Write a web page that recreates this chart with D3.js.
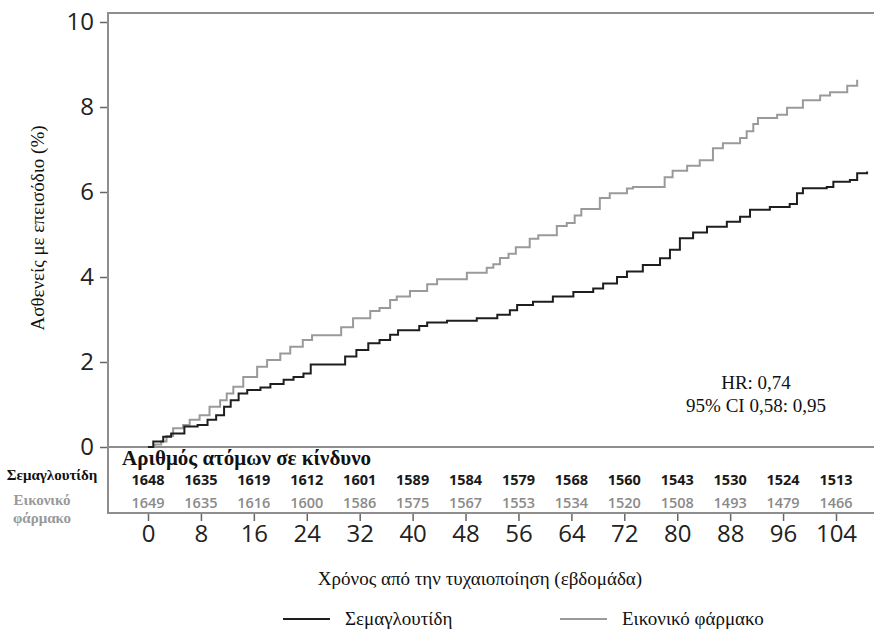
<!DOCTYPE html>
<html>
<head>
<meta charset="utf-8">
<script src="https://cdn.jsdelivr.net/npm/d3@7"></script>
<style>
  html, body { margin: 0; padding: 0; background: #fff; }
  svg { display: block; }
</style>
</head>
<body>
<svg id="chart" width="874" height="629"></svg>
<script>
// ---- Data ----
const semaWeeks = [0, 0.8, 2.3, 3.5, 5.5, 7.5, 9, 10.3, 11.5, 12.5, 13.7, 15, 17, 18.5, 20.5, 22, 23.5, 24.6,
  29.8, 31.5, 33.3, 35, 36.6, 37.8, 41, 42.2, 45.2, 49.7, 52.8, 54.7, 55.8, 58.2, 61.2, 64.3, 67.3, 68.8,
  70.9, 72.4, 74.8, 77.4, 78.9, 80.4, 82.4, 84.5, 87.5, 89.5, 91, 94, 97, 98.1, 99, 102.6, 103.6, 106.1, 107.2, 108.7];
const semaValues = [0, 0.13, 0.24, 0.32, 0.48, 0.52, 0.64, 0.75, 0.95, 1.1, 1.26, 1.34, 1.4, 1.48, 1.58, 1.65, 1.73, 1.94,
  2.13, 2.28, 2.44, 2.52, 2.64, 2.75, 2.85, 2.93, 2.97, 3.03, 3.11, 3.22, 3.34, 3.42, 3.54, 3.65, 3.73, 3.85,
  4.0, 4.13, 4.28, 4.44, 4.64, 4.91, 5.05, 5.18, 5.3, 5.42, 5.58, 5.65, 5.72, 5.97, 6.09, 6.12, 6.24, 6.28, 6.44, 6.48];

const placeboWeeks = [0, 1, 2, 2.8, 3.8, 5.3, 6.3, 7.8, 9.3, 10.9, 11.9, 12.9, 14.4, 16.5, 18, 20, 21.5, 23.4, 24.8,
  29.2, 31, 33.6, 35, 36.6, 37.6, 39.6, 42.2, 43.7, 48.2, 51.2, 52.2, 53.2, 54.5, 55.6, 57.7, 59, 61.8, 63.3,
  64.5, 65.5, 68.3, 69.8, 72.4, 73.3, 78.1, 79.3, 81.5, 83.4, 85.4, 86.9, 89.5, 90.5, 91.5, 92.2, 95.1, 96.6,
  99, 101.6, 103.1, 105.7, 107.2];
const placeboValues = [0, 0.06, 0.13, 0.26, 0.44, 0.52, 0.64, 0.75, 0.95, 1.1, 1.26, 1.42, 1.65, 1.89, 2.05, 2.2, 2.36, 2.52, 2.63,
  2.82, 3.03, 3.2, 3.27, 3.46, 3.54, 3.67, 3.83, 3.95, 4.1, 4.22, 4.3, 4.45, 4.55, 4.7, 4.9, 4.98, 5.2, 5.27,
  5.45, 5.6, 5.86, 5.97, 6.08, 6.12, 6.35, 6.5, 6.62, 6.75, 7.03, 7.15, 7.27, 7.43, 7.6, 7.74, 7.82, 7.98,
  8.16, 8.27, 8.35, 8.5, 8.64];

const xTicks = [0, 8, 16, 24, 32, 40, 48, 56, 64, 72, 80, 88, 96, 104];
const yTicks = [0, 2, 4, 6, 8, 10];
const semaAtRisk = [1648, 1635, 1619, 1612, 1601, 1589, 1584, 1579, 1568, 1560, 1543, 1530, 1524, 1513];
const placeboAtRisk = [1649, 1635, 1616, 1600, 1586, 1575, 1567, 1553, 1534, 1520, 1508, 1493, 1479, 1466];

const seriesNames = ["Σεμαγλουτίδη", "Εικονικό φάρμακο"];
const riskTitle = "Αριθμός ατόμων σε κίνδυνο";
const yTitle = "Ασθενείς με επεισόδιο (%)";
const xTitle = "Χρόνος από την τυχαιοποίηση (εβδομάδα)";
const hrLines = ["HR: 0,74", "95% CI 0,58: 0,95"];

// ---- Layout ----
const frameLeft = 108, frameTop = 13, frameRight = 874, dividerY = 447, frameBottom = 513;
const black = "#1e1e1e", grey = "#9a9a9a", frameCol = "#8e8e8e";
const serif = "'Liberation Serif', 'Times New Roman', serif";
const sans = "'Open Sans', 'DejaVu Sans', sans-serif";

const svg = d3.select("#chart");

const x = d3.scaleLinear().domain([0, 104]).range([148, 836]);
const y = d3.scaleLinear().domain([0, 10]).range([dividerY, 22]);

// Frame
const frame = svg.append("g").attr("stroke", frameCol).attr("stroke-width", 2).attr("fill", "none");
frame.append("path").attr("d", `M${frameRight},${frameTop}H${frameLeft}V${frameBottom}H${frameRight}`);
frame.append("path").attr("d", `M${frameLeft},${dividerY}H${frameRight}`);

// Y axis
const yAxis = svg.append("g").attr("transform", `translate(${frameLeft - 1},0)`)
  .call(d3.axisLeft(y).tickValues(yTicks).tickSize(7).tickPadding(6));
yAxis.select(".domain").remove();
yAxis.selectAll(".tick line").attr("stroke", "#666").attr("stroke-width", 1.5);
yAxis.selectAll(".tick text").attr("font-family", sans).attr("font-size", 24).attr("fill", "#222");

// X axis (below the risk table)
const xAxis = svg.append("g").attr("transform", `translate(0,${frameBottom + 1})`)
  .call(d3.axisBottom(x).tickValues(xTicks).tickSize(7).tickPadding(4));
xAxis.select(".domain").remove();
xAxis.selectAll(".tick line").attr("stroke", "#666").attr("stroke-width", 1.5);
xAxis.selectAll(".tick text").attr("font-family", sans).attr("font-size", 24).attr("fill", "#222");

// Curves
const line = d3.line().x(d => x(d[0])).y(d => y(d[1])).curve(d3.curveStepAfter);
const placeboData = placeboWeeks.map((w, i) => [w, placeboValues[i]]);
const semaData = semaWeeks.map((w, i) => [w, semaValues[i]]);
svg.append("path").datum(placeboData).attr("d", line)
  .attr("fill", "none").attr("stroke", grey).attr("stroke-width", 2);
svg.append("path").datum(semaData).attr("d", line)
  .attr("fill", "none").attr("stroke", black).attr("stroke-width", 2);

// HR annotation
svg.append("g").selectAll("text").data(hrLines).join("text")
  .attr("x", 756).attr("y", (d, i) => 389 + i * 23)
  .attr("text-anchor", "middle").attr("font-family", serif).attr("font-size", 19).attr("fill", "#111")
  .text(d => d);

// Risk table
svg.append("text").attr("x", 122).attr("y", 465)
  .attr("font-family", serif).attr("font-weight", "bold").attr("font-size", 21).attr("fill", "#111")
  .text(riskTitle);
svg.append("g").selectAll("text").data(semaAtRisk).join("text")
  .attr("x", (d, i) => x(xTicks[i])).attr("y", 485)
  .attr("text-anchor", "middle").attr("font-family", sans).attr("font-weight", 700)
  .attr("font-size", 14.5).attr("fill", "#1a1a1a").text(d => d);
svg.append("g").selectAll("text").data(placeboAtRisk).join("text")
  .attr("x", (d, i) => x(xTicks[i])).attr("y", 508)
  .attr("text-anchor", "middle").attr("font-family", sans).attr("font-weight", 600)
  .attr("font-size", 14.5).attr("fill", "#8a8a8a").text(d => d);

svg.append("text").attr("x", 52).attr("y", 480).attr("text-anchor", "middle")
  .attr("font-family", serif).attr("font-weight", "bold").attr("font-size", 15).attr("fill", "#111")
  .text(seriesNames[0]);
const plLab = seriesNames[1].split(" ");
svg.append("g").selectAll("text").data(plLab).join("text")
  .attr("x", 42).attr("y", (d, i) => 505 + i * 18).attr("text-anchor", "middle")
  .attr("font-family", serif).attr("font-weight", "bold").attr("font-size", 15).attr("fill", "#999")
  .text(d => d);

// Axis titles
svg.append("text").attr("transform", "translate(44,228) rotate(-90)")
  .attr("text-anchor", "middle").attr("font-family", serif).attr("font-size", 19).attr("fill", "#111")
  .text(yTitle);
svg.append("text").attr("x", 480).attr("y", 585).attr("text-anchor", "middle")
  .attr("font-family", serif).attr("font-size", 19).attr("fill", "#111")
  .text(xTitle);

// Legend
const legend = svg.append("g");
const legItems = [
  { name: seriesNames[0], color: black, x0: 283 },
  { name: seriesNames[1], color: grey, x0: 560 }
];
legItems.forEach(it => {
  legend.append("line").attr("x1", it.x0).attr("x2", it.x0 + 47).attr("y1", 619).attr("y2", 619)
    .attr("stroke", it.color).attr("stroke-width", 2);
  legend.append("text").attr("x", it.x0 + 62).attr("y", 625)
    .attr("font-family", serif).attr("font-size", 19).attr("fill", "#111").text(it.name);
});
</script>
</body>
</html>
